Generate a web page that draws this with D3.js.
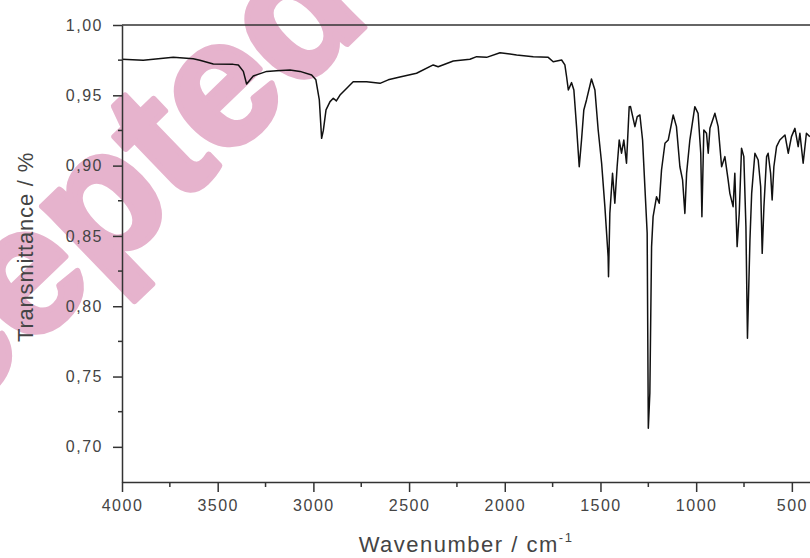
<!DOCTYPE html>
<html>
<head>
<meta charset="utf-8">
<script src="https://cdn.jsdelivr.net/npm/d3@7"></script>
<style>
  html, body { margin: 0; padding: 0; background: #fff; }
  svg { display: block; font-family: "Liberation Sans", Arial, sans-serif; }
</style>
</head>
<body>
<div id="chart"></div>
<script>
// spectrum
const wavenumbers = [4000, 3889, 3732, 3628, 3593, 3523, 3419, 3392, 3366, 3349, 3314, 3244, 3192, 3122, 3070, 3009, 2987, 2969, 2957, 2948, 2934, 2913, 2896, 2880, 2861, 2818, 2792, 2722, 2652, 2609, 2548, 2461, 2374, 2348, 2269, 2182, 2147, 2095, 2025, 1973, 1938, 1851, 1773, 1747, 1703, 1686, 1677, 1668, 1651, 1639, 1625, 1611, 1599, 1587, 1573, 1547, 1529, 1512, 1494, 1477, 1460, 1458, 1451, 1437, 1425, 1413, 1402, 1390, 1378, 1364, 1350, 1343, 1320, 1308, 1294, 1280, 1268, 1256, 1250, 1242, 1233, 1225, 1207, 1193, 1181, 1163, 1146, 1120, 1103, 1085, 1071, 1059, 1050, 1033, 1007, 990, 976, 970, 960, 946, 937, 928, 902, 885, 867, 850, 833, 824, 807, 798, 786, 775, 763, 751, 740, 732, 719, 710, 693, 676, 663, 655, 646, 632, 624, 611, 603, 594, 580, 563, 536, 519, 502, 484, 467, 458, 441, 424, 406];
const transmittance = [0.9756, 0.975, 0.977, 0.976, 0.975, 0.9723, 0.972, 0.9716, 0.967, 0.958, 0.9637, 0.967, 0.9675, 0.968, 0.967, 0.9644, 0.961, 0.9467, 0.9194, 0.925, 0.9396, 0.9455, 0.9479, 0.946, 0.9502, 0.9561, 0.9597, 0.9597, 0.9585, 0.961, 0.963, 0.9657, 0.9716, 0.9703, 0.9744, 0.9756, 0.9775, 0.977, 0.9803, 0.9794, 0.9787, 0.9775, 0.977, 0.9739, 0.9751, 0.9716, 0.9632, 0.9538, 0.959, 0.9538, 0.9277, 0.8992, 0.9182, 0.9396, 0.9467, 0.9616, 0.9538, 0.9253, 0.9017, 0.8708, 0.8352, 0.821, 0.866, 0.8945, 0.8732, 0.8992, 0.9182, 0.9088, 0.9182, 0.9017, 0.9419, 0.942, 0.9277, 0.9348, 0.936, 0.9182, 0.885, 0.8519, 0.7132, 0.7383, 0.8424, 0.8637, 0.8779, 0.8732, 0.8969, 0.9159, 0.9182, 0.936, 0.9277, 0.8992, 0.8898, 0.866, 0.8945, 0.9182, 0.9419, 0.9372, 0.9088, 0.8637, 0.9253, 0.923, 0.9088, 0.9265, 0.9372, 0.9277, 0.8992, 0.9064, 0.8898, 0.8803, 0.8708, 0.8945, 0.8424, 0.866, 0.9123, 0.9064, 0.8566, 0.7772, 0.8471, 0.8803, 0.9088, 0.904, 0.885, 0.8376, 0.8708, 0.9064, 0.9088, 0.8945, 0.8756, 0.8992, 0.9135, 0.9182, 0.9218, 0.9088, 0.9206, 0.9265, 0.9135, 0.923, 0.9017, 0.923, 0.9206];

const xTicks = [4000, 3500, 3000, 2500, 2000, 1500, 1000, 500];
const xMinorTicks = [3750, 3250, 2750, 2250, 1750, 1250, 750];
const yTicks = [0.70, 0.75, 0.80, 0.85, 0.90, 0.95, 1.00];
const yMinorTicks = [0.725, 0.775, 0.825, 0.875, 0.925, 0.975];

const width = 810, height = 558;
const axisColor = "#333", textColor = "#444";

const svg = d3.select("#chart").append("svg")
    .attr("width", width)
    .attr("height", height);

const x = d3.scaleLinear().domain([4000, 400]).range([122, 811]);
const y = d3.scaleLinear().domain([0.675, 1.0]).range([482, 25]);

// watermark, underneath everything (stroke fattens the glyphs)
svg.append("text")
    .attr("transform", "translate(-210,582) rotate(-44)")
    .attr("font-size", 180)
    .attr("font-weight", "bold")
    .attr("fill", "#e6b3cd")
    .attr("stroke", "#e6b3cd")
    .attr("stroke-width", 6)
    .attr("stroke-linejoin", "round")
    .text("Accepted");

// spectrum
const data = wavenumbers.map((w, i) => ({x: w, y: transmittance[i]}));
svg.append("path")
    .datum(data)
    .attr("fill", "none")
    .attr("stroke", "#111")
    .attr("stroke-width", 1.5)
    .attr("stroke-linejoin", "round")
    .attr("d", d3.line().x(d => x(d.x)).y(d => y(d.y)));

// top frame
svg.append("line")
    .attr("x1", x(4000)).attr("x2", width)
    .attr("y1", y(1.0)).attr("y2", y(1.0))
    .attr("stroke", axisColor).attr("stroke-width", 1.5);

// x axis
const xAxis = svg.append("g")
    .attr("transform", `translate(0,${y(0.675)})`)
    .call(d3.axisBottom(x).tickValues(xTicks).tickSize(10).tickSizeOuter(0).tickPadding(8)
        .tickFormat(d3.format("d")));
xAxis.append("g").selectAll("line")
    .data(xMinorTicks)
    .join("line")
    .attr("x1", d => x(d)).attr("x2", d => x(d))
    .attr("y1", 0).attr("y2", 5);

// y axis
const yAxis = svg.append("g")
    .attr("transform", `translate(${x(4000)},0)`)
    .call(d3.axisLeft(y).tickValues(yTicks).tickSize(9).tickSizeOuter(0).tickPadding(10)
        .tickFormat(d => d3.format(".2f")(d).replace(".", ",")));
yAxis.append("g").selectAll("line")
    .data(yMinorTicks)
    .join("line")
    .attr("x1", 0).attr("x2", -4)
    .attr("y1", d => y(d)).attr("y2", d => y(d));

[xAxis, yAxis].forEach(g => {
    g.select(".domain").attr("stroke", axisColor).attr("stroke-width", 1.5);
    g.selectAll("line").attr("stroke", axisColor).attr("stroke-width", 1.5);
    g.selectAll("text")
        .attr("fill", textColor)
        .attr("font-size", 16)
        .attr("font-family", "'Liberation Sans', Arial, sans-serif")
        .attr("letter-spacing", 1.5);
});

// axis titles
svg.append("text")
    .attr("transform", "translate(33,247) rotate(-90)")
    .attr("text-anchor", "middle")
    .attr("font-size", 22)
    .attr("letter-spacing", 0.8)
    .attr("fill", textColor)
    .text("Transmittance / %");

const xTitle = svg.append("text")
    .attr("x", 466)
    .attr("y", 552)
    .attr("text-anchor", "middle")
    .attr("font-size", 22)
    .attr("letter-spacing", 1.5)
    .attr("fill", textColor);
xTitle.append("tspan").text("Wavenumber / cm");
xTitle.append("tspan").attr("font-size", 13).attr("dy", -10).text("-1");
</script>
</body>
</html>
